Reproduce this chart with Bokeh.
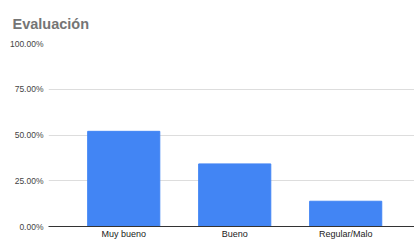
from bokeh.plotting import figure
from bokeh.models import FixedTicker, NumeralTickFormatter, Range1d, ColumnDataSource
from bokeh.embed import file_html
from bokeh.resources import INLINE

categories = ["Muy bueno", "Bueno", "Regular/Malo"]
values = [0.520, 0.342, 0.138]
y_ticks = [0.0, 0.25, 0.5, 0.75, 1.0]

xs = list(range(len(categories)))
src = ColumnDataSource(dict(x=xs, v=values))

p = figure(width=414, height=241, output_backend="svg", toolbar_location=None,
           x_range=Range1d(-0.678, 2.62), y_range=Range1d(0, 1.0),
           title="Evaluación")
p.title.text_font = "Liberation Sans"
p.title.text_font_size = "14.5px"
p.title.text_font_style = "bold"
p.title.text_color = "#757575"
p.title.offset = -36
p.title.standoff = 23

p.vbar(x="x", top="v", width=0.65, source=src, color="#4285F4")

p.outline_line_color = None
p.min_border_left = 48
p.min_border_right = 0
p.min_border_top = 43
p.min_border_bottom = 0
p.border_fill_color = "white"

p.yaxis.ticker = FixedTicker(ticks=y_ticks)
p.yaxis.formatter = NumeralTickFormatter(format="0.00%")
p.yaxis.axis_line_color = None
p.yaxis.major_tick_line_color = None
p.yaxis.minor_tick_line_color = None
p.yaxis.major_tick_out = 0
p.yaxis.major_tick_in = 0
p.yaxis.minor_tick_out = 0
p.yaxis.major_label_text_font = "Liberation Sans"
p.yaxis.major_label_text_font_size = "8.5px"
p.yaxis.major_label_text_color = "#444444"
p.yaxis.major_label_standoff = 5

p.xaxis.ticker = FixedTicker(ticks=xs)
p.xaxis.major_label_overrides = {i: c for i, c in enumerate(categories)}
p.xaxis.axis_line_color = "#333333"
p.xaxis.axis_line_width = 1
p.xaxis.major_tick_line_color = None
p.xaxis.minor_tick_line_color = None
p.xaxis.major_tick_out = 0
p.xaxis.major_tick_in = 0
p.xaxis.minor_tick_out = 0
p.xaxis.axis_label_standoff = 0
p.xaxis.axis_label_text_font_size = "0px"
p.xaxis.major_label_text_font = "Liberation Sans"
p.xaxis.major_label_text_font_size = "9px"
p.xaxis.major_label_text_color = "#222222"
p.xaxis.major_label_standoff = 2

p.xgrid.grid_line_color = None
p.ygrid.grid_line_color = "#dddddd"
p.ygrid.ticker = FixedTicker(ticks=y_ticks)

open("out.html", "w").write(file_html(p, INLINE))
